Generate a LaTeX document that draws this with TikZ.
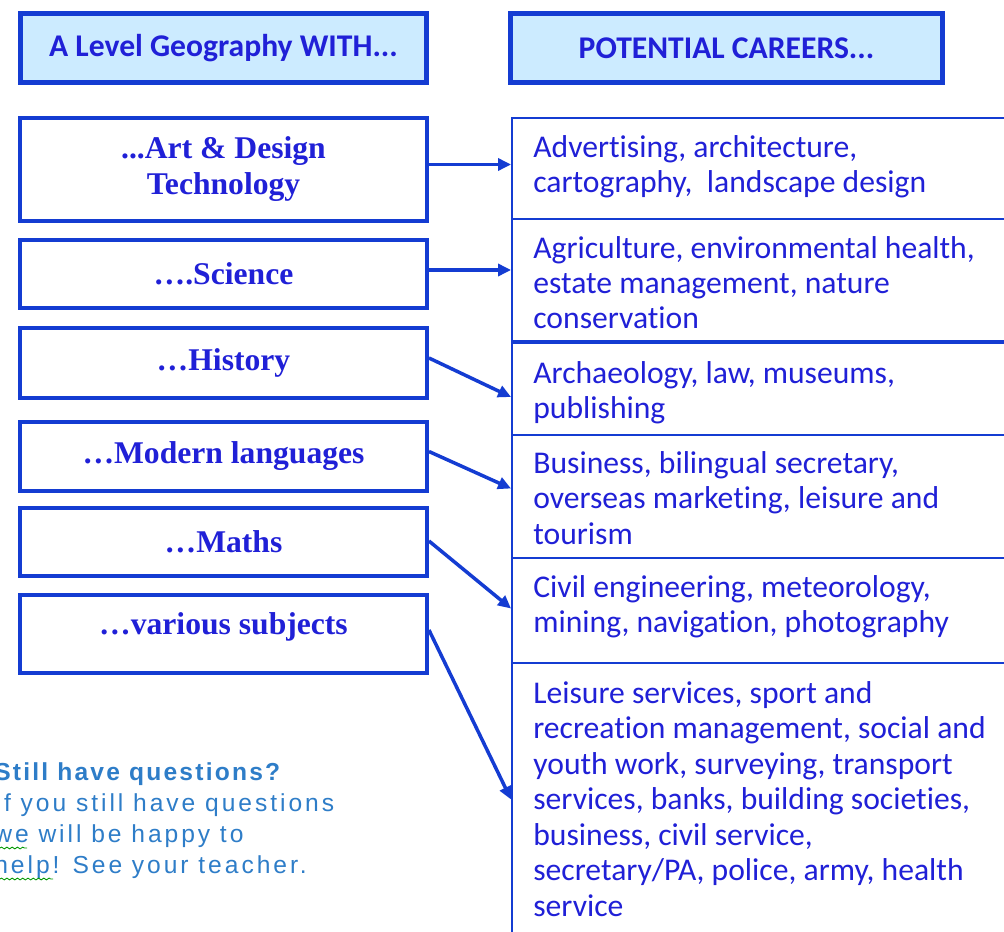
\documentclass[tikz,border=0pt]{standalone}
\usepackage{fontspec}
\usetikzlibrary{arrows.meta,calc,decorations.pathmorphing}
\newfontfamily\calfont{Carlito}[Ligatures=NoCommon]
\newfontfamily\serfont{Liberation Serif}
\newfontfamily\arifont{Liberation Sans}[LetterSpace=12]
\definecolor{bord}{RGB}{20,60,210}
\definecolor{txtblue}{RGB}{32,32,215}
\definecolor{hdrfill}{RGB}{204,235,255}
\definecolor{askblue}{RGB}{46,125,200}
\tikzset{
  hdrbox/.style={draw=bord, fill=hdrfill, line width=0.1cm, inner sep=0pt,
    font=\calfont\bfseries\fontsize{18}{21}\selectfont, text=txtblue},
  subjbox/.style={draw=bord, line width=0.08cm, inner sep=0pt, minimum width=8.14cm, align=center,
    font=\serfont\bfseries\fontsize{18}{20.5}\selectfont, text=txtblue},
  cellbox/.style={draw=bord, line width=0.04cm, inner sep=0pt, minimum width=10.36cm},
  celltext/.style={anchor=base west, inner sep=0pt, align=left, text=txtblue,
    font=\calfont\fontsize{18}{20.2}\selectfont},
  arr/.style={draw=bord, line width=0.07cm, -{Triangle[length=0.26cm,width=0.24cm]}},
  squig/.style={draw=green!60!black, line width=0.5pt, decorate,
    decoration={snake, amplitude=0.5pt, segment length=3pt}}
}
\begin{document}
\begin{tikzpicture}[x=0.02cm,y=-0.02cm]
\clip (0,0) rectangle (1004,932);
\fill[white] (0,0) rectangle (1004,932);

% headers
\node[hdrbox, minimum width=8.14cm, minimum height=1.4cm] (h1) at (223.5,48) {A Level Geography WITH...};
\node[hdrbox, minimum width=8.66cm, minimum height=1.4cm] (h2) at (726.5,48) {POTENTIAL CAREERS...};

% subject boxes
\node[subjbox, minimum height=2.06cm] (art) at (223.5,169.5) {...Art \& Design\\Technology};
\node[subjbox, minimum height=1.36cm] (sci) at (223.5,274) {….Science};
\node[subjbox, minimum height=1.40cm] (his) at (223.5,363) {…History};
\node[subjbox, minimum height=1.38cm] (mod) at (223.5,456.5) {…Modern languages};
\node[subjbox, minimum height=1.36cm] (mat) at (223.5,542) {…Maths};
\node[subjbox, minimum height=1.56cm, text depth=0.42cm] (var) at (223.5,634) {…various subjects};

% career cells
\node[cellbox, minimum height=2.02cm] (c1) at (771,168.5) {};
\node[cellbox, minimum height=2.48cm] (c2) at (771,281) {};
\node[cellbox, minimum height=1.84cm] (c3) at (771,389) {};
\node[cellbox, minimum height=2.46cm] (c4) at (771,496.5) {};
\node[cellbox, minimum height=2.10cm] (c5) at (771,610.5) {};
\node[cellbox, minimum height=5.94cm] (c6) at (771,811.5) {};
\draw[bord, line width=0.065cm] (c3.north west) -- (c3.north east);

% (anchor is the baseline of the last line)
\node[celltext] (t1) at (533,192.5) {Advertising, architecture,\\cartography,\ \ landscape design};
\node[celltext] (t2) at (533,329) {Agriculture, environmental health,\\estate management, nature\\conservation};
\node[celltext] (t3) at (533,418.5) {Archaeology, law, museums,\\publishing};
\node[celltext] (t4) at (533,544) {Business, bilingual secretary,\\overseas marketing, leisure and\\tourism};
\node[celltext] (t5) at (533,632.5) {Civil engineering, meteorology,\\mining, navigation, photography};
\node[celltext] (t6) at (533,916) {Leisure services, sport and\\recreation management, social and\\youth work, surveying, transport\\services, banks, building societies,\\business, civil service,\\secretary/PA, police, army, health\\service};

% arrows
\draw[arr] ($(art.east)+(0,-5)$) -- ($(art.east -| c1.west)+(0,-5)$);
\draw[arr] ($(sci.east)+(0,-4)$) -- ($(sci.east -| c2.west)+(0,-4)$);
\draw[arr] ($(his.east)+(0,-5)$) -- ($(c3.west)+(0,8)$);
\draw[arr] ($(mod.east)+(0,-5)$) -- ($(c4.west)+(0,-8)$);
\draw[arr] ($(mat.east)+(0,-1)$) -- ($(c5.west)+(0,-2)$);
\draw[arr] ($(var.east)+(0,-4)$) -- ($(c6.west)+(0,-12)$);

% questions text
\node[anchor=base west, inner sep=0pt, align=left, text=askblue,
  font=\arifont\fontsize{14}{17.6}\selectfont] (ask) at (-6,873)
  {{\bfseries\addfontfeature{LetterSpace=9}Still have questions?}\\If you still have questions\\we will be happy to\\help! See your teacher.};
\draw[squig] (0,848) -- (27,848);
\draw[squig] (0,879) -- (53,879);
\end{tikzpicture}
\end{document}
